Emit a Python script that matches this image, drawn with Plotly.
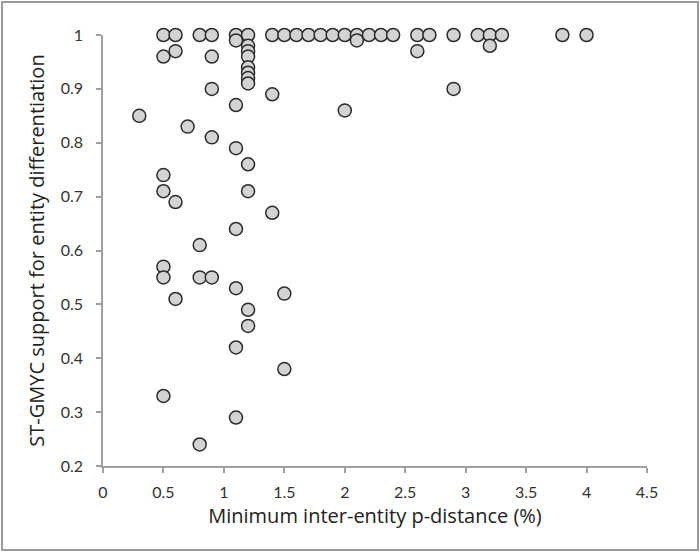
import plotly.graph_objects as go

# Data: minimum inter-entity p-distance (%) and ST-GMYC support
x_vals = [
    0.3,
    0.5, 0.5, 0.5, 0.5, 0.5, 0.5, 0.5,
    0.6, 0.6, 0.6, 0.6,
    0.7,
    0.8, 0.8, 0.8, 0.8,
    0.9, 0.9, 0.9, 0.9, 0.9,
    1.1, 1.1, 1.1, 1.1, 1.1, 1.1, 1.1, 1.1,
    1.2, 1.2, 1.2, 1.2, 1.2, 1.2, 1.2, 1.2, 1.2, 1.2, 1.2, 1.2,
    1.4, 1.4, 1.4,
    1.5, 1.5, 1.5,
    1.6, 1.7, 1.8, 1.9,
    2.0, 2.0,
    2.1, 2.1,
    2.2, 2.3, 2.4,
    2.6, 2.6,
    2.7,
    2.9, 2.9,
    3.1,
    3.2, 3.2,
    3.3, 3.8, 4.0,
]
y_vals = [
    0.85,
    1.00, 0.96, 0.74, 0.71, 0.57, 0.55, 0.33,
    1.00, 0.97, 0.69, 0.51,
    0.83,
    1.00, 0.61, 0.55, 0.24,
    1.00, 0.96, 0.90, 0.81, 0.55,
    1.00, 0.99, 0.87, 0.79, 0.64, 0.53, 0.42, 0.29,
    1.00, 0.98, 0.97, 0.96, 0.94, 0.93, 0.92, 0.91, 0.76, 0.71, 0.49, 0.46,
    1.00, 0.89, 0.67,
    1.00, 0.52, 0.38,
    1.00, 1.00, 1.00, 1.00,
    1.00, 0.86,
    1.00, 0.99,
    1.00, 1.00, 1.00,
    1.00, 0.97,
    1.00,
    1.00, 0.90,
    1.00,
    1.00, 0.98,
    1.00, 1.00, 1.00,
]

x_ticks = [0, 0.5, 1, 1.5, 2, 2.5, 3, 3.5, 4, 4.5]
x_tick_labels = ["0", "0.5", "1", "1.5", "2", "2.5", "3", "3.5", "4", "4.5"]
y_ticks = [0.2, 0.3, 0.4, 0.5, 0.6, 0.7, 0.8, 0.9, 1.0]
y_tick_labels = ["0.2", "0.3", "0.4", "0.5", "0.6", "0.7", "0.8", "0.9", "1"]

fig = go.Figure()
fig.add_trace(go.Scatter(
    x=x_vals, y=y_vals, mode="markers",
    marker=dict(size=13, color="#d3d3d3", line=dict(color="#2b2b2b", width=1.5)),
    cliponaxis=False, showlegend=False, hoverinfo="skip",
))

axis_common = dict(
    showline=True, linecolor="#a0a0a0", linewidth=1.5,
    ticks="outside", ticklen=5, tickcolor="#a0a0a0", tickwidth=1.5,
    showgrid=False, zeroline=False,
    tickfont=dict(family="Lato, sans-serif", size=16, color="#333333"),
)

title_font = dict(family="Open Sans, sans-serif", size=20, color="#222222")

fig.update_xaxes(range=[0, 4.5], tickvals=x_ticks, ticktext=x_tick_labels,
                 ticklabelstandoff=6,
                 title=dict(text="Minimum inter-entity p-distance (%)",
                            font=title_font, standoff=9),
                 **axis_common)
fig.update_yaxes(range=[0.2, 1.0], tickvals=y_ticks, ticktext=y_tick_labels,
                 ticklabelstandoff=10,
                 title=dict(text="ST-GMYC support for entity differentiation",
                            font=title_font, standoff=11),
                 **axis_common)

# outer frame
L, R, T, B = 103, 53, 35, 86
W, H = 700, 552
pw, ph = W - L - R, H - T - B
def px2paper_x(px):
    return (px - L) / pw
def py2paper_y(py):
    return (H - B - py) / ph

fig.add_shape(type="rect", xref="paper", yref="paper",
              x0=px2paper_x(2), x1=px2paper_x(698), y0=py2paper_y(550), y1=py2paper_y(2),
              line=dict(color="#9a9a9a", width=2), fillcolor="rgba(0,0,0,0)", layer="below")

fig.update_layout(
    width=W, height=H,
    margin=dict(l=L, r=R, t=T, b=B),
    plot_bgcolor="white", paper_bgcolor="white",
)

fig.write_html("out.html", config={"displayModeBar": False},
               post_script="document.body.style.margin='0';document.body.style.padding='0';")
